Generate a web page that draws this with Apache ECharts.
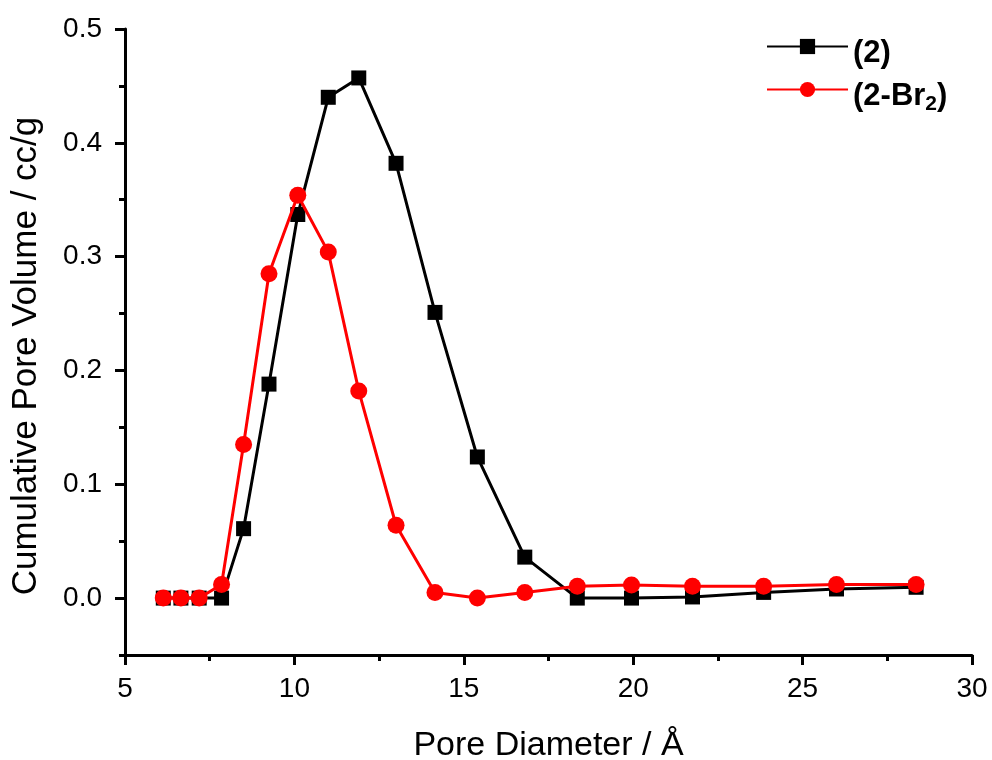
<!DOCTYPE html>
<html>
<head>
<meta charset="utf-8">
<script src="https://cdn.jsdelivr.net/npm/echarts@6/dist/echarts.min.js"></script>
<style>
  html, body { margin: 0; padding: 0; background: #ffffff; }
  #chart { width: 992px; height: 760px; }
</style>
</head>
<body>
<div id="chart"></div>
<script>
// Pore size distribution of (2) and (2-Br2)
const poreDiameter = [6.13, 6.65, 7.19, 7.85, 8.5, 9.25, 10.1, 11.0, 11.9, 13.0, 14.15, 15.4, 16.8, 18.35, 19.95, 21.75, 23.85, 26.0, 28.35];
const volume2 = [0, 0, 0, 0, 0.061, 0.188, 0.337, 0.440, 0.457, 0.382, 0.251, 0.124, 0.036, 0, 0, 0.001, 0.005, 0.008, 0.0095];
const volume2Br2 = [0, 0, 0, 0.012, 0.135, 0.285, 0.354, 0.304, 0.182, 0.064, 0.005, 0, 0.005, 0.0105, 0.0115, 0.0105, 0.0105, 0.012, 0.012];
const seriesNames = ['(2)', '(2-Br2)'];
const xTickValues = [5, 10, 15, 20, 25, 30];
const yTickValues = [0.0, 0.1, 0.2, 0.3, 0.4, 0.5];
const yBottom = -0.05;

const FONT = "'Liberation Sans', Arial, sans-serif";
const pairs = (xs, ys) => xs.map((x, i) => [x, ys[i]]);

const xMin = xTickValues[0];
const xMax = xTickValues[xTickValues.length - 1];
const xStep = xTickValues[1] - xTickValues[0];
const yMax = yTickValues[yTickValues.length - 1];
const yStep = yTickValues[1] - yTickValues[0];
const yHalf = yStep / 2;

// plot area: grid 0 spans yBottom..yMax; grid 1 spans 0..yMax over the same pixels
const gridTop = 29, gridBottom = 105, gridLeft = 125, gridRight = 20;
const plotH = 760 - gridTop - gridBottom;
const zeroH = plotH * (yMax / (yMax - yBottom));

const axisLine = { show: true, onZero: false, lineStyle: { color: '#000', width: 3 } };
const tickStyle = { color: '#000', width: 3 };

const legendRich = {
  b: { fontSize: 31, fontWeight: 'bold', color: '#000', fontFamily: FONT, lineHeight: 34, verticalAlign: 'top', padding: [0, 0, 5, 0] },
  s: { fontSize: 21, fontWeight: 'bold', color: '#000', fontFamily: FONT, lineHeight: 21, verticalAlign: 'bottom' }
};
const legendFormatter = (name) => {
  const m = name.match(/^\((\d)-Br(\d)\)$/);
  if (m) return '{b|(' + m[1] + '-Br}{s|' + m[2] + '}{b|)}';
  return '{b|' + name + '}';
};
const makeLegend = (name, top) => ({
  data: [name],
  orient: 'vertical',
  left: 766,
  top: top,
  padding: 0,
  itemWidth: 81,
  itemHeight: 19,
  formatter: legendFormatter,
  textStyle: { padding: [17, 0, 0, 0], rich: legendRich, fontFamily: FONT }
});

const option = {
  animation: false,
  backgroundColor: '#ffffff',
  legend: [makeLegend(seriesNames[0], 38), makeLegend(seriesNames[1], 81)],
  grid: [
    { left: gridLeft, right: gridRight, top: gridTop, bottom: gridBottom, outerBoundsMode: 'none', containLabel: false },
    { left: gridLeft, right: gridRight, top: gridTop, height: zeroH, outerBoundsMode: 'none', containLabel: false }
  ],
  xAxis: [
    {
      type: 'value', gridIndex: 0, min: xMin, max: xMax, interval: xStep,
      axisLine: axisLine,
      axisTick: { show: true, length: 10, lineStyle: tickStyle },
      minorTick: { show: true, splitNumber: 2, length: 6, lineStyle: tickStyle },
      splitLine: { show: false }, minorSplitLine: { show: false },
      axisLabel: { fontSize: 28, color: '#000', fontFamily: FONT, margin: 20 },
      name: 'Pore Diameter / Å', nameLocation: 'middle', nameGap: 74,
      nameTextStyle: { fontSize: 34, color: '#000', fontFamily: FONT }
    },
    { type: 'value', gridIndex: 1, min: xMin, max: xMax, show: false }
  ],
  yAxis: [
    {
      type: 'value', gridIndex: 0, min: yBottom, max: yMax, interval: yHalf,
      axisLine: axisLine,
      axisTick: { show: true, length: 6, lineStyle: tickStyle },
      axisLabel: { show: false },
      splitLine: { show: false },
      name: 'Cumulative Pore Volume / cc/g', nameLocation: 'middle', nameGap: 81,
      nameTextStyle: { fontSize: 35, color: '#000', fontFamily: FONT, padding: [0, 28, 0, 0] }
    },
    {
      type: 'value', gridIndex: 1, min: 0, max: yMax, interval: yStep,
      axisLine: { show: false, onZero: false },
      axisTick: { show: true, length: 10, lineStyle: tickStyle },
      axisLabel: { fontSize: 28, color: '#000', fontFamily: FONT, margin: 23, formatter: (v) => v.toFixed(1) },
      splitLine: { show: false }
    }
  ],
  series: [
    {
      name: seriesNames[0], type: 'line', xAxisIndex: 0, yAxisIndex: 0,
      data: pairs(poreDiameter, volume2),
      symbol: 'rect', symbolSize: 15,
      lineStyle: { color: '#000000', width: 3 },
      itemStyle: { color: '#000000' },
      z: 2
    },
    {
      name: seriesNames[1], type: 'line', xAxisIndex: 0, yAxisIndex: 0,
      data: pairs(poreDiameter, volume2Br2),
      symbol: 'circle', symbolSize: 17,
      lineStyle: { color: '#ff0000', width: 3 },
      itemStyle: { color: '#ff0000' },
      z: 3
    }
  ]
};

const chart = echarts.init(document.getElementById('chart'), null, { renderer: 'canvas' });
chart.setOption(option);
</script>
</body>
</html>
